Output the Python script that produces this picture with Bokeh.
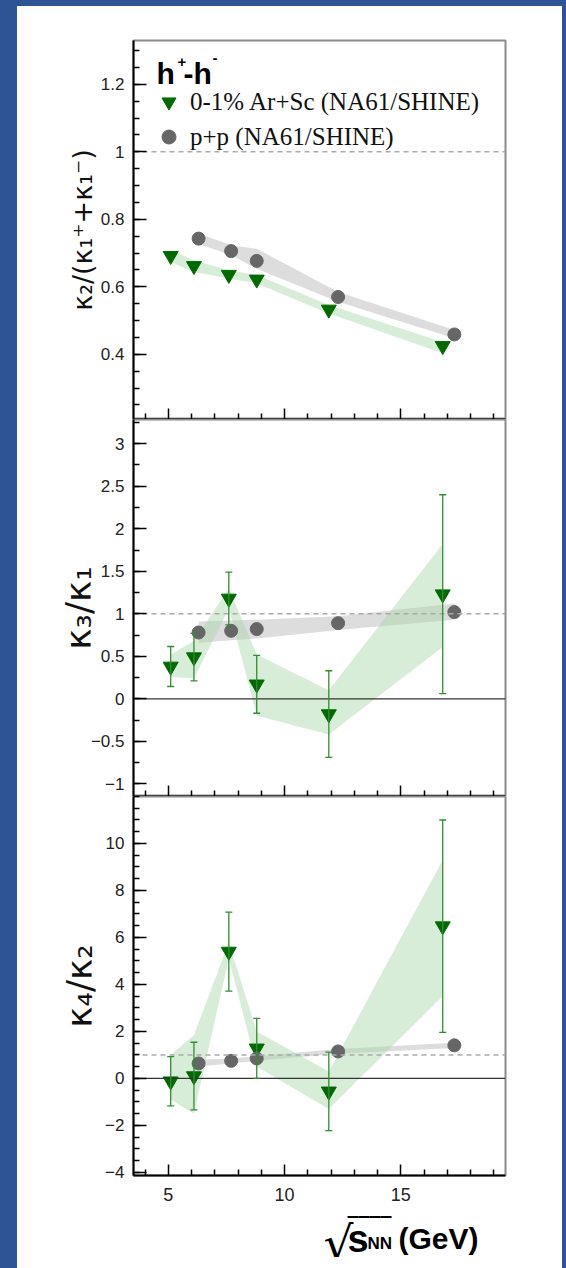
from bokeh.plotting import figure
from bokeh.models import (Range1d, FixedTicker, CustomJSTickFormatter, Span, Whisker, TeeHead,
                          ColumnDataSource, Legend, LegendItem, Label, Spacer)
from bokeh.layouts import row, column
from bokeh.embed import file_html
from bokeh.resources import INLINE
import numpy as np

# ---------------- data ----------------
x_arsc = [5.1, 6.1, 7.6, 8.8, 11.9, 16.8]
x_pp = [6.3, 7.7, 8.8, 12.3, 17.3]

# kappa2 / (kappa1+ + kappa1-)
k21_arsc = [0.692, 0.662, 0.636, 0.622, 0.533, 0.425]
k21_arsc_sys_lo = [0.674, 0.644, 0.625, 0.610, 0.521, 0.403]
k21_arsc_sys_hi = [0.708, 0.679, 0.649, 0.635, 0.546, 0.437]
k21_pp = [0.743, 0.706, 0.677, 0.570, 0.459]
k21_pp_sys_lo = [0.728, 0.694, 0.654, 0.556, 0.448]
k21_pp_sys_hi = [0.758, 0.723, 0.713, 0.585, 0.472]

# kappa3 / kappa1
k31_arsc = [0.38, 0.49, 1.18, 0.17, -0.18, 1.23]
k31_arsc_stat = [0.235, 0.28, 0.31, 0.34, 0.51, 1.17]
k31_arsc_sys_lo = [0.26, 0.24, 1.06, -0.20, -0.42, 0.61]
k31_arsc_sys_hi = [0.52, 0.68, 1.30, 0.52, 0.10, 1.82]
k31_pp = [0.78, 0.80, 0.82, 0.89, 1.02]
k31_pp_sys_lo = [0.66, 0.69, 0.71, 0.81, 0.93]
k31_pp_sys_hi = [0.91, 0.92, 0.93, 0.97, 1.12]

# kappa4 / kappa2
k42_arsc = [-0.12, 0.10, 5.40, 1.28, -0.55, 6.48]
k42_arsc_stat = [1.05, 1.44, 1.68, 1.28, 1.67, 4.52]
k42_arsc_sys_lo = [-0.90, -1.50, 5.10, 0.50, -1.30, 3.50]
k42_arsc_sys_hi = [1.00, 1.85, 5.80, 2.00, 0.30, 9.30]
k42_pp = [0.64, 0.75, 0.85, 1.15, 1.41]
k42_pp_sys_lo = [0.50, 0.65, 0.75, 1.05, 1.30]
k42_pp_sys_hi = [0.80, 0.85, 0.95, 1.25, 1.52]

x_major = [5, 10, 15]
x_minor = [4, 6, 7, 8, 9, 11, 12, 13, 14, 16, 17, 18, 19]

# ---------------- style ----------------
BLUE = "#2e5496"
GREEN = "#006a00"
GREEN_ERR = "#2f8f2f"
GREY = "#666666"
TICK_FONT = "Liberation Sans"

fmt_code = "return String(tick).replace('-', '\\u2212');"


def make_panel(yr, y_major, y_minor, ylabel, frame_h, top_b, bottom_b, show_x,
               ylabel_standoff, ylabel_size):
    p = figure(frame_width=372, frame_height=frame_h,
               x_range=Range1d(3.5, 19.5), y_range=Range1d(*yr),
               output_backend="svg", toolbar_location=None,
               min_border_left=116, min_border_right=57,
               min_border_top=top_b, min_border_bottom=bottom_b,
               background_fill_color="white", border_fill_color="white")
    p.xgrid.visible = False
    p.ygrid.visible = False
    p.outline_line_color = "#8a8a8a"
    p.outline_line_width = 2

    for ax in (p.xaxis[0], p.yaxis[0]):
        ax.axis_line_color = "black"
        ax.axis_line_width = 2
        ax.major_tick_out = 0
        ax.minor_tick_out = 0
        ax.major_tick_line_color = "black"
        ax.minor_tick_line_color = "black"
        ax.major_tick_line_width = 1.5
        ax.minor_tick_line_width = 1.5
        ax.major_label_text_font = TICK_FONT
        ax.major_label_text_font_size = "17px"
        ax.major_label_text_color = "#222222"
        ax.formatter = CustomJSTickFormatter(code=fmt_code)

    xa = p.xaxis[0]
    xa.ticker = FixedTicker(ticks=x_major, minor_ticks=x_minor)
    xa.major_tick_in = 11
    xa.minor_tick_in = 6
    if show_x:
        xa.major_label_standoff = 12
        xa.major_label_text_font_size = "18px"
    else:
        xa.formatter = CustomJSTickFormatter(code="return '';")
        xa.major_label_text_font_size = "0px"
        xa.major_label_standoff = 0

    ya = p.yaxis[0]
    ya.ticker = FixedTicker(ticks=y_major, minor_ticks=y_minor)
    ya.major_tick_in = 13
    ya.minor_tick_in = 6
    ya.major_label_standoff = 9
    ya.axis_label = ylabel
    ya.axis_label_text_font = "DejaVu Sans"
    ya.axis_label_text_font_style = "normal"
    ya.axis_label_text_font_size = ylabel_size
    ya.axis_label_text_color = "#111111"
    ya.axis_label_standoff = ylabel_standoff
    return p


def add_lines(p, zero):
    p.add_layout(Span(location=1, dimension="width", line_color="#aaaaaa",
                      line_dash="5 4", line_width=1.5, level="glyph"))
    if zero:
        p.add_layout(Span(location=0, dimension="width", line_color="#333333",
                          line_width=1.3, level="glyph"))


def add_bands(p, lo_a, hi_a, lo_p, hi_p):
    p.varea(x=x_pp, y1=lo_p, y2=hi_p, fill_color="#bbbbbb", fill_alpha=0.5)
    p.varea(x=x_arsc, y1=lo_a, y2=hi_a, fill_color="#a8d8a8", fill_alpha=0.45)


def add_errors(p, vals, errs):
    src = ColumnDataSource(dict(base=x_arsc,
                                lower=[v - e for v, e in zip(vals, errs)],
                                upper=[v + e for v, e in zip(vals, errs)]))
    w = Whisker(source=src, base="base", lower="lower", upper="upper",
                line_color=GREEN_ERR, line_width=1.3, level="glyph",
                upper_head=TeeHead(size=7, line_color=GREEN_ERR, line_width=1.3),
                lower_head=TeeHead(size=7, line_color=GREEN_ERR, line_width=1.3))
    p.add_layout(w)


def add_markers(p, ya, yp):
    rt = p.scatter(x_arsc, ya, marker="inverted_triangle", size=15,
                   fill_color=GREEN, line_color=GREEN)
    rc = p.scatter(x_pp, yp, marker="circle", size=13,
                   fill_color=GREY, line_color=GREY)
    return rt, rc


# ---------------- panel 1 ----------------
p1 = make_panel((0.207, 1.33), [0.4, 0.6, 0.8, 1.0, 1.2],
                list(np.round(np.arange(0.25, 1.33, 0.05), 2)),
                "κ₂/(κ₁⁺+κ₁⁻)", 379, 34, 0, False, 0, "27px")
add_bands(p1, k21_arsc_sys_lo, k21_arsc_sys_hi, k21_pp_sys_lo, k21_pp_sys_hi)
add_lines(p1, False)
rt, rc = add_markers(p1, k21_arsc, k21_pp)

legend = Legend(items=[LegendItem(label="0-1% Ar+Sc (NA61/SHINE)", renderers=[rt]),
                       LegendItem(label="p+p (NA61/SHINE)", renderers=[rc])],
                location=(18, 265), label_text_font="Liberation Serif",
                label_text_font_size="25px", label_text_color="#111111",
                border_line_color=None, background_fill_alpha=0,
                padding=0, margin=0, spacing=0, glyph_width=35, glyph_height=35,
                label_height=35, label_standoff=4)
p1.add_layout(legend)

Y_TOP = 1.33
hb = dict(x=3.5, y=Y_TOP, text_font=TICK_FONT, text_color="black",
          text_baseline="alphabetic", text_font_style="bold")
p1.add_layout(Label(text="h", x_offset=23, y_offset=-33, text_font_size="30px", **hb))
p1.add_layout(Label(text="+", x_offset=44, y_offset=-21, text_font_size="15px", **hb))
p1.add_layout(Label(text="-h", x_offset=50, y_offset=-33, text_font_size="30px", **hb))
p1.add_layout(Label(text="-", x_offset=79, y_offset=-17, text_font_size="15px", **hb))

# ---------------- panel 2 ----------------
p2 = make_panel((-1.149, 3.285), [-1, -0.5, 0, 0.5, 1, 1.5, 2, 2.5, 3],
                list(np.round(np.arange(-1.0, 3.26, 0.25), 2)),
                "κ₃/κ₁", 377, 0, 0, False, -11, "36px")
add_bands(p2, k31_arsc_sys_lo, k31_arsc_sys_hi, k31_pp_sys_lo, k31_pp_sys_hi)
add_lines(p2, True)
add_errors(p2, k31_arsc, k31_arsc_stat)
add_markers(p2, k31_arsc, k31_pp)

# ---------------- panel 3 ----------------
p3 = make_panel((-4.13, 12.0), [-4, -2, 0, 2, 4, 6, 8, 10],
                list(np.round(np.arange(-4.0, 12.01, 0.5), 2)),
                "κ₄/κ₂", 379, 0, 33, True, 2, "36px")
add_bands(p3, k42_arsc_sys_lo, k42_arsc_sys_hi, k42_pp_sys_lo, k42_pp_sys_hi)
add_lines(p3, True)
add_errors(p3, k42_arsc, k42_arsc_stat)
add_markers(p3, k42_arsc, k42_pp)

# ---------------- x-axis title strip ----------------
p4 = figure(frame_width=372, frame_height=49, x_range=p3.x_range, y_range=Range1d(0, 1),
            x_axis_type=None, y_axis_type=None, output_backend="svg",
            toolbar_location=None, min_border_left=116, min_border_right=57,
            min_border_top=0, min_border_bottom=0,
            background_fill_color="white", border_fill_color="white")
p4.outline_line_color = None
p4.xgrid.visible = False
p4.ygrid.visible = False

xt = dict(x=3.5, y=1, text_color="black")
p4.add_layout(Label(text="√", x_offset=190, y_offset=-35, text_font="DejaVu Sans",
                    text_font_size="47px", text_baseline="alphabetic", **xt))
p4.add_layout(Label(text="‾‾‾‾", x_offset=214, y_offset=-3, text_font="DejaVu Sans",
                    text_font_style="bold", text_font_size="22px", text_baseline="top", **xt))
p4.add_layout(Label(text="s", x_offset=214, y_offset=-30, text_font=TICK_FONT,
                    text_font_style="bold", text_font_size="38px", text_baseline="alphabetic", **xt))
p4.add_layout(Label(text="NN", x_offset=234, y_offset=-35, text_font=TICK_FONT,
                    text_font_style="bold", text_font_size="17px", text_baseline="alphabetic", **xt))
p4.add_layout(Label(text="(GeV)", x_offset=265, y_offset=-30, text_font=TICK_FONT,
                    text_font_style="bold", text_font_size="30px", text_baseline="alphabetic", **xt))

# ---------------- layout ----------------
blue = {"background-color": BLUE}
layout = row(Spacer(width=17, height=1268, styles=blue),
             column(Spacer(width=545, height=6, styles=blue), p1, p2, p3, p4),
             Spacer(width=4, height=1268, styles=blue))

open("out.html", "w").write(file_html(layout, INLINE))
